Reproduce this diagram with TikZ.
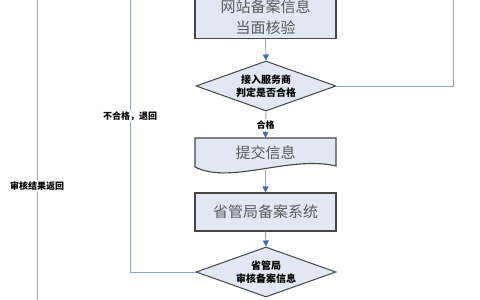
\documentclass[tikz,border=0pt]{standalone}
\usepackage{fontspec}
\setmainfont{Noto Sans CJK SC}
\usepackage{tikz}
\usepackage{xcolor}
\usetikzlibrary{shapes.geometric, arrows.meta, positioning, calc}
\definecolor{cFill}{RGB}{225,232,243}
\definecolor{cEdge}{RGB}{70,70,70}
\definecolor{cLine}{RGB}{150,165,195}
\definecolor{cTip}{RGB}{70,110,170}
\definecolor{cText}{RGB}{90,90,90}
\tikzset{
	stepbox/.style ={rectangle, minimum width=141pt, minimum height=38pt, inner sep=0pt, text centered, align=center, draw=cEdge, line width=1.1pt, fill=cFill, text=cText, font=\fontsize{15}{21}\selectfont},
	docbox/.style  ={rectangle, minimum width=141pt, minimum height=30pt, inner sep=0pt, text centered, text=cText, font=\fontsize{15}{21}\selectfont},
	checkdia/.style={diamond, aspect=2.8, minimum width=140pt, minimum height=50pt, inner sep=0pt, text centered, align=center, draw=cEdge, line width=1pt, fill=cFill, font=\fontsize{10}{13}\selectfont\bfseries},
	flowline/.style={draw=cLine, line width=0.9pt},
	flowarrow/.style={flowline, -{Triangle[length=6pt, width=6pt, color=cTip]}},
	% label on a connector
	linelabel/.style={fill=white, inner sep=1.5pt, font=\fontsize{9}{11}\selectfont\bfseries},
}
\begin{document}
\begin{tikzpicture}[x=1pt, y=-1pt]
	\fill[white] (0,0) rectangle (480,300);
	\useasboundingbox (0,0) rectangle (480,300);
	% main column
	\node[stepbox, minimum height=43pt] (verify) at (265.5,17) {网站备案信息\\当面核验};
	\node[checkdia] (isp) at (266,86) {接入服务商\\判定是否合格};
	% document shape with wavy bottom
	\path[draw=cEdge, line width=1.1pt, fill=cFill] (195,138) -- (336,138) -- (336,166)
		.. controls (290,155) and (230,185) .. (195,167) -- cycle;
	\node[docbox] (submit) at (265.5,153) {提交信息};
	\node[stepbox] (provsys) at (265.5,212) {省管局备案系统};
	\node[checkdia] (provchk) at (266,272) {省管局\\审核备案信息};
	\coordinate (submitBot) at (265.5,170);
	% return paths
	\coordinate (redoTop) at (453,-1);
	\coordinate (backTop) at (130,-1);
	\coordinate (resTop) at (37,-1);
	\coordinate (resBot) at (37,301);
	% connectors
	\draw[flowarrow] (verify.south) -- (isp.north);
	\draw[flowarrow] (isp.south) -- (submit.north);
	\node[linelabel] (passLbl) at (265.5,125) {合格};
	\draw[flowarrow] (submitBot) -- (provsys.north);
	\draw[flowarrow] (provsys.south) -- (provchk.north);
	\draw[flowline] (isp.east) -| (redoTop);
	\draw[flowline] (provchk.west) -| (backTop);
	\node[linelabel] (failLbl) at (130,116) {不合格，退回};
	\draw[flowline] (resTop) -- (resBot);
	\node[linelabel] (resLbl) at (37,186) {审核结果返回};
\end{tikzpicture}
\end{document}
